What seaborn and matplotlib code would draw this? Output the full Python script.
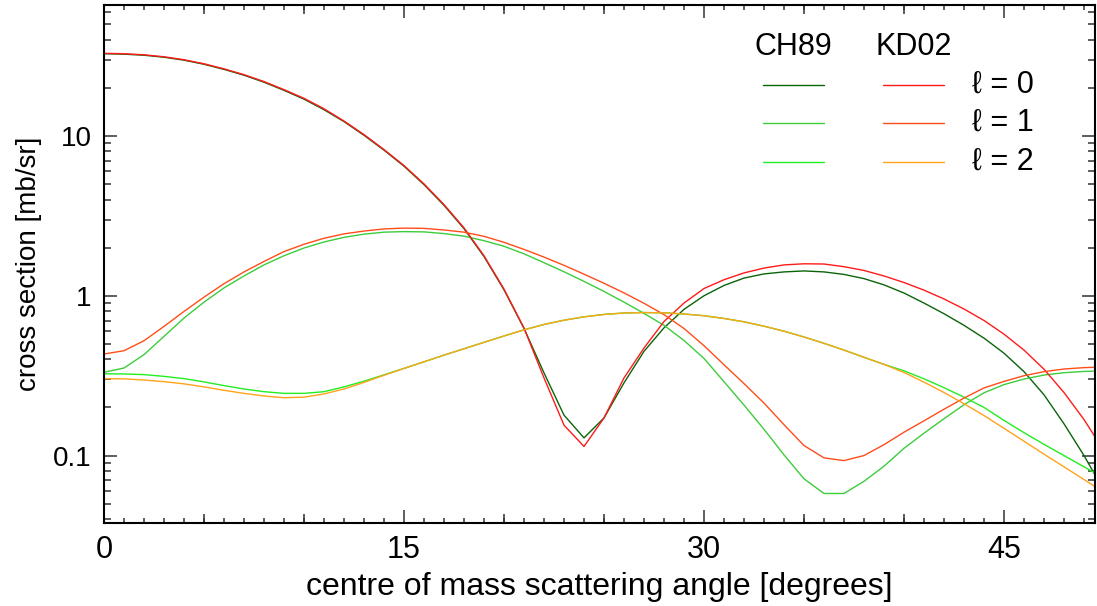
import matplotlib
matplotlib.use("Agg")
import matplotlib.pyplot as plt
import numpy as np
import pandas as pd
import seaborn as sns

# ---------------- data ----------------
angle = list(range(0, 51))

ch89_l0 = [32.7, 32.5, 32.0, 31.1, 29.8, 28.1, 26.1, 24.0, 21.7, 19.3,
           17.0, 14.6, 12.3, 10.1, 8.15, 6.47, 4.96, 3.68, 2.63, 1.76,
           1.09, 0.625, 0.329, 0.179, 0.129, 0.172, 0.285, 0.449, 0.63, 0.822,
           1.00, 1.16, 1.29, 1.37, 1.41, 1.43, 1.41, 1.36, 1.28, 1.17,
           1.04, 0.90, 0.772, 0.653, 0.543, 0.437, 0.335, 0.24, 0.158, 0.10,
           0.0603]
kd02_l0 = [32.9, 32.7, 32.2, 31.3, 30.0, 28.3, 26.3, 24.2, 21.9, 19.5,
           17.2, 14.8, 12.4, 10.2, 8.22, 6.53, 5.01, 3.72, 2.66, 1.78,
           1.10, 0.628, 0.306, 0.155, 0.114, 0.172, 0.306, 0.471, 0.69, 0.90,
           1.11, 1.26, 1.39, 1.49, 1.56, 1.585, 1.58, 1.52, 1.44, 1.33,
           1.21, 1.084, 0.955, 0.826, 0.70, 0.575, 0.457, 0.347, 0.248, 0.168,
           0.107]
ch89_l1 = [0.332, 0.353, 0.428, 0.557, 0.725, 0.912, 1.12, 1.33, 1.56, 1.78,
           1.99, 2.17, 2.32, 2.43, 2.50, 2.52, 2.51, 2.45, 2.36, 2.21,
           2.04, 1.83, 1.61, 1.413, 1.23, 1.064, 0.912, 0.776, 0.653, 0.525,
           0.405, 0.29, 0.207, 0.146, 0.101, 0.0715, 0.0579, 0.0579, 0.069, 0.0858,
           0.111, 0.138, 0.170, 0.208, 0.247, 0.278, 0.301, 0.319, 0.330, 0.336,
           0.339]
kd02_l1 = [0.432, 0.453, 0.523, 0.643, 0.798, 0.98, 1.19, 1.41, 1.64, 1.89,
           2.10, 2.29, 2.44, 2.54, 2.62, 2.65, 2.64, 2.58, 2.50, 2.355,
           2.16, 1.95, 1.746, 1.55, 1.365, 1.197, 1.042, 0.897, 0.762, 0.624,
           0.487, 0.37, 0.282, 0.213, 0.156, 0.1155, 0.0967, 0.093, 0.10, 0.117,
           0.14, 0.165, 0.195, 0.229, 0.265, 0.291, 0.316, 0.335, 0.348, 0.355,
           0.358]
ch89_l2 = [0.325, 0.324, 0.321, 0.313, 0.303, 0.289, 0.274, 0.261, 0.251, 0.245,
           0.245, 0.251, 0.269, 0.292, 0.320, 0.351, 0.386, 0.425, 0.466, 0.511,
           0.56, 0.612, 0.661, 0.703, 0.738, 0.764, 0.78, 0.785, 0.782, 0.769,
           0.75, 0.721, 0.687, 0.645, 0.60, 0.552, 0.504, 0.457, 0.412, 0.372,
           0.339, 0.302, 0.266, 0.232, 0.20, 0.166, 0.139, 0.1175, 0.10, 0.085,
           0.0724]
kd02_l2 = [0.303, 0.302, 0.297, 0.29, 0.281, 0.269, 0.256, 0.245, 0.236, 0.23,
           0.232, 0.243, 0.261, 0.287, 0.318, 0.351, 0.386, 0.425, 0.466, 0.511,
           0.56, 0.612, 0.661, 0.703, 0.738, 0.764, 0.78, 0.785, 0.782, 0.769,
           0.75, 0.721, 0.687, 0.645, 0.60, 0.552, 0.504, 0.457, 0.412, 0.372,
           0.331, 0.288, 0.248, 0.211, 0.178, 0.148, 0.123, 0.102, 0.085, 0.0708,
           0.0589]

models = ["CH89", "KD02"]
l_labels = ["\u2113 = 0", "\u2113 = 1", "\u2113 = 2"]
series_names = ["CH89 l0", "CH89 l1", "CH89 l2", "KD02 l0", "KD02 l1", "KD02 l2"]
series_values = [ch89_l0, ch89_l1, ch89_l2, kd02_l0, kd02_l1, kd02_l2]
colors = {"CH89 l0": "#0a640a", "CH89 l1": "#3ccc3c", "CH89 l2": "#22ee22",
          "KD02 l0": "#ff1a1a", "KD02 l1": "#ff4d1a", "KD02 l2": "#ffa31a"}

df = pd.concat([pd.DataFrame({"angle": angle, "xs": v, "series": n})
                for n, v in zip(series_names, series_values)], ignore_index=True)

# ---------------- figure ----------------
sns.set_theme(style="ticks")
plt.rcParams['font.family'] = ['Liberation Sans', 'DejaVu Sans']
plt.rcParams['text.color'] = 'black'
plt.rcParams['axes.labelcolor'] = 'black'
plt.rcParams['xtick.labelcolor'] = 'black'
plt.rcParams['ytick.labelcolor'] = 'black'

W, H = 1097, 606
fig = plt.figure(figsize=(W / 100, H / 100), dpi=100)
L, R, T, B = 104, 1095, 5, 522.7
ax = fig.add_axes([L / W, 1 - B / H, (R - L) / W, (B - T) / H])

sns.lineplot(data=df, x="angle", y="xs", hue="series", hue_order=series_names,
             palette=colors, linewidth=1.0, estimator=None, legend=False, ax=ax)

ax.set_yscale("log")
ax.set_xlim(0, 49.55)
ax.set_ylim(0.038, 66)

# ticks
ax.set_xticks([0, 15, 30, 45])
ax.set_xticks(np.arange(0, 50, 1), minor=True)
ax.set_yticks([0.1, 1, 10])
ax.set_yticklabels(["0.1", "1", "10"])
ax.tick_params(which="both", direction="in", top=True, right=True,
               color="#333333", width=1.1, labelcolor="black")
ax.tick_params(axis="x", which="major", length=9.4, labelsize=22, pad=9)
ax.tick_params(axis="x", which="minor", length=3.6)
ax.tick_params(axis="y", which="major", length=9.4, labelsize=20, pad=9)
ax.tick_params(axis="y", which="minor", length=5)

for loc in ("bottom", "top"):
    sec = ax.secondary_xaxis(loc)
    sec.set_xticks([5, 10, 20, 25, 35, 40])
    sec.tick_params(direction="in", length=6.5, width=1.1, color="#333333",
                    labelbottom=False, labeltop=False)
    for s in sec.spines.values():
        s.set_visible(False)

for s in ax.spines.values():
    s.set_linewidth(1.5)
    s.set_color("black")

ax.set_xlabel("centre of mass scattering angle [degrees]", fontsize=23,
              labelpad=5, color="black")
ax.set_ylabel("cross section [mb/sr]", fontsize=20, labelpad=8, color="black")

# ---------------- legend (column headers + keys) ----------------
head_y = 0.919
row_y = [0.8455, 0.772, 0.6967]
col_x = {"CH89": (0.665, 0.7265), "KD02": (0.786, 0.8476)}
for m in models:
    x0, x1 = col_x[m]
    ax.text((x0 + x1) / 2, head_y, m, transform=ax.transAxes, ha="center",
            va="center", fontsize=22, color="black")
    for i in range(3):
        ax.plot([x0, x1], [row_y[i], row_y[i]], transform=ax.transAxes,
                color=colors[f"{m} l{i}"], lw=1.0)
for i, lab in enumerate(l_labels):
    ax.text(0.876, row_y[i], lab, transform=ax.transAxes, ha="left",
            va="center", fontsize=22, color="black")

fig.savefig("out.png", dpi=100)
